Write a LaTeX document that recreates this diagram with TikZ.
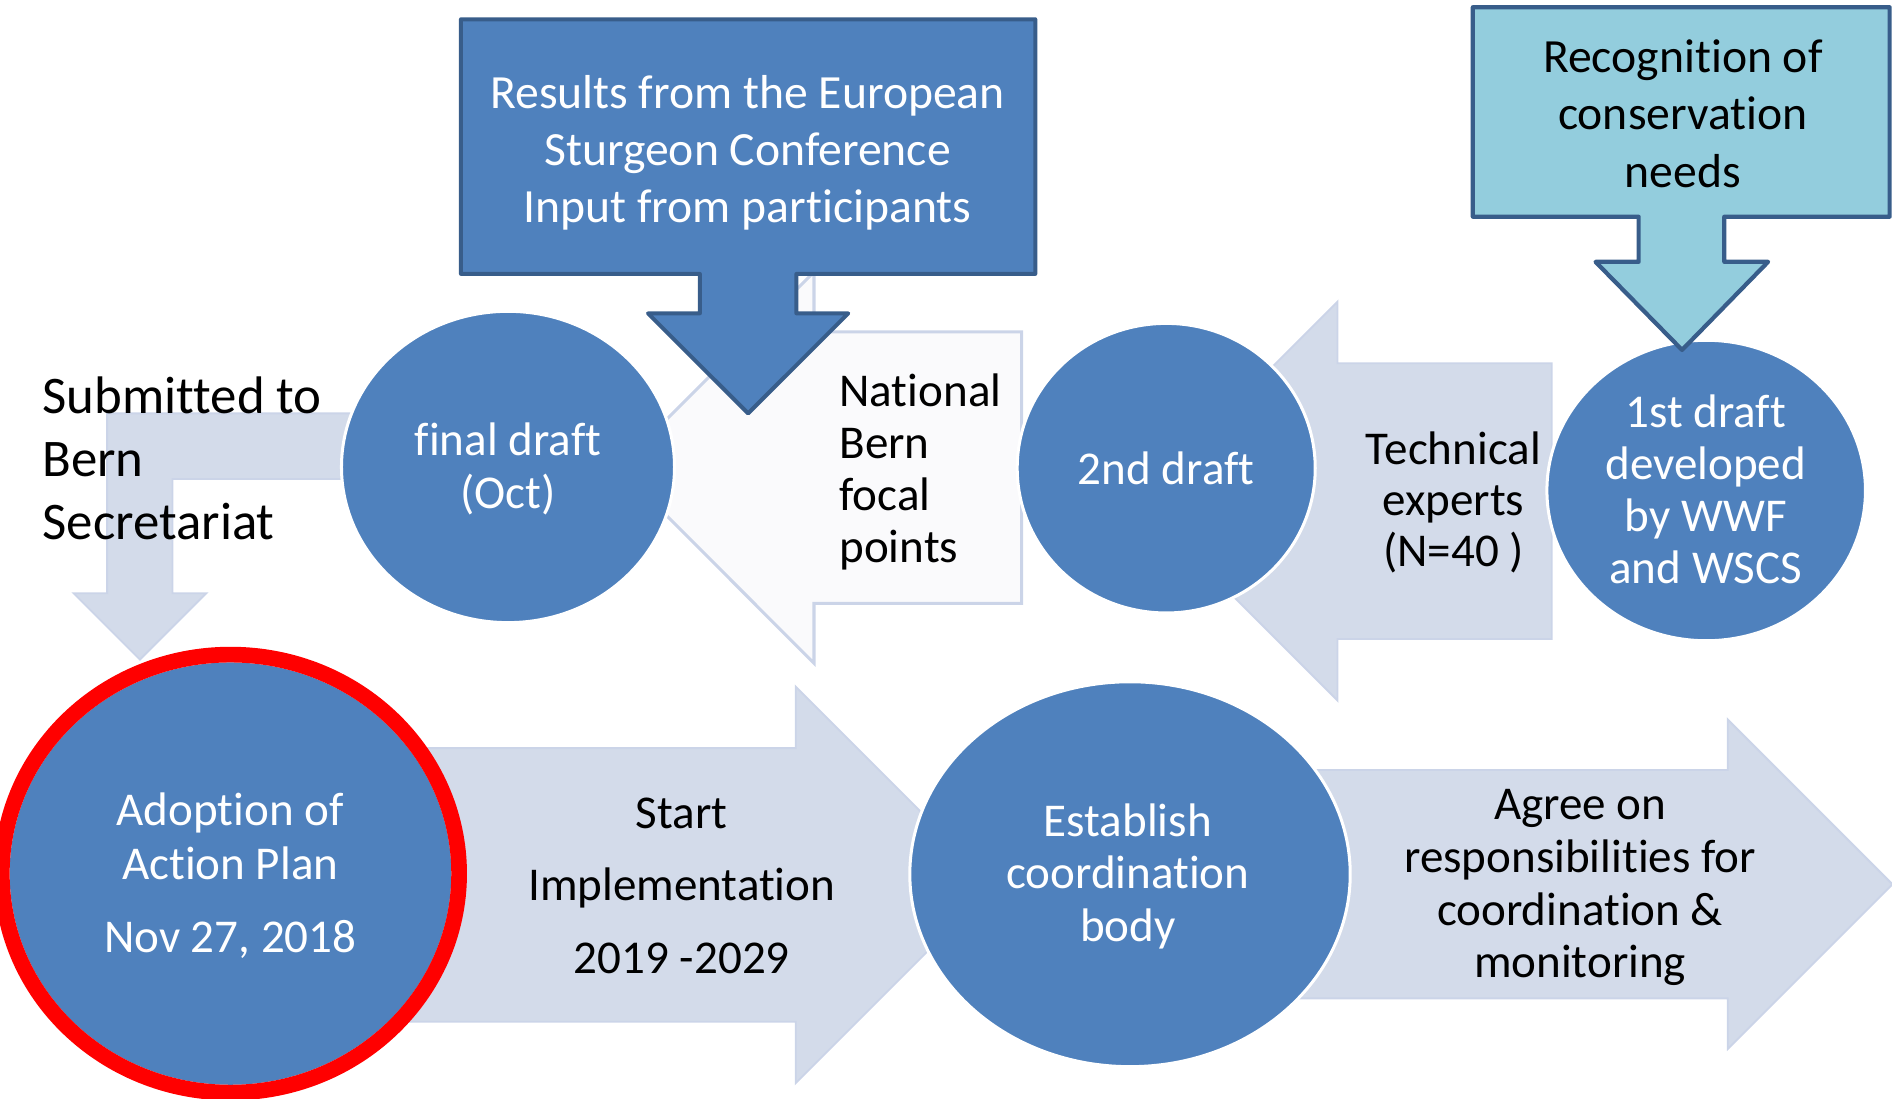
\documentclass[tikz,border=0pt]{standalone}
\usepackage{fontspec}
\setmainfont{Carlito}[Ligatures=NoCommon]
\usetikzlibrary{shapes.geometric}
\definecolor{dblue}{RGB}{79,129,189}
\definecolor{dborder}{RGB}{56,93,138}
\definecolor{aqua}{RGB}{147,205,221}
\definecolor{pale}{RGB}{211,219,234}
\definecolor{paleline}{RGB}{203,212,232}
\definecolor{ghost}{RGB}{250,250,252}
\begin{document}
\begin{tikzpicture}[x=1pt,y=-1pt,
		disc/.style={ellipse,fill=dblue,draw=white,line width=2.5pt,inner sep=0pt},
		flow/.style={fill=pale,draw=paleline,line width=1.5pt},
		callout/.style={fill=dblue,draw=dborder,line width=3.3pt,line join=round},
		wtext/.style={text=white,align=center,inner sep=0pt,yshift=-2.5pt,font=\fontsize{39}{43.5}\selectfont},
		btext/.style={text=black,align=center,inner sep=0pt,yshift=-2.5pt,font=\fontsize{39}{43.5}\selectfont}]
	\useasboundingbox (0,0) rectangle (1568,910);
	\draw[flow] (330,342.6) -- (88.8,342.6) -- (88.8,491.6) -- (61,491.6) -- (116,546.6) -- (171,491.6) -- (143,491.6) -- (143,397) -- (330,397) -- cycle;
	\draw[fill=ghost,draw=paleline,line width=2.5pt] (846.7,275) -- (846.7,500) -- (674.6,500) -- (674.6,549.6) -- (512.6,387.5) -- (674.6,225.4) -- (674.6,275) -- cycle;
	\draw[flow] (1286,301) -- (1286,529.6) -- (1108.5,529.6) -- (1108.5,580.6) -- (943.2,415.3) -- (1108.5,250) -- (1108.5,301) -- cycle;
	\draw[flow] (200,620) -- (659.5,620) -- (659.5,569) -- (823.8,733.3) -- (659.5,897.6) -- (659.5,846.7) -- (200,846.7) -- cycle;
	\draw[flow] (950,638.2) -- (1431.8,638.2) -- (1431.8,596.2) -- (1568.4,732.8) -- (1431.8,869.4) -- (1431.8,827.4) -- (950,827.4) -- cycle;
	\draw[callout] (382,16) -- (858,16) -- (858,227) -- (660,227) -- (660,259.7) -- (703,259.7) -- (620,342.6) -- (537,259.7) -- (580,259.7) -- (580,227) -- (382,227) -- cycle;
	\foreach \n/\x/\y/\w/\h in {final/421/387/276/258,second/966.5/388/247/240,first/1414/406.5/264/249,establish/936.5/724.5/365/319}
		\node[disc,minimum width=\w pt,minimum height=\h pt] (\n) at (\x,\y) {};
	\node[disc,draw=none,minimum width=366pt,minimum height=350pt] (adoption) at (191,724) {};
	\node[ellipse,draw=red,line width=13pt,inner sep=0pt,minimum width=379pt,minimum height=363pt] (adoptring) at (191,724) {};
	\draw[callout,fill=aqua,line width=3.5pt] (1220.6,6) -- (1566,6) -- (1566,179.6) -- (1429,179.6) -- (1429,217) -- (1465.3,217) -- (1394,290) -- (1322.3,217) -- (1358,217) -- (1358,179.6) -- (1220.6,179.6) -- cycle;
	\node[wtext,anchor=base,font=\fontsize{39.5}{47.5}\selectfont] (results) at (619.5,182.3) {Results from the European\\Sturgeon Conference\\Input from participants};
	\node[btext,anchor=base,font=\fontsize{39.5}{47.3}\selectfont] (recognition) at (1394.7,152.5) {Recognition of\\conservation\\needs};
	\node[btext,anchor=base west,align=left,font=\fontsize{43.8}{52.5}\selectfont] (submitted) at (35,445) {Submitted to\\Bern\\Secretariat};
	\node[wtext,anchor=base] (finaltext) at (421,418.6) {final draft\\(Oct)};
	\node[btext,anchor=base west,align=left,font=\fontsize{39}{43.3}\selectfont] (national) at (695.5,464) {National\\Bern\\focal\\points};
	\node[wtext,anchor=base] (secondtext) at (966.5,399) {2nd draft};
	\node[btext,anchor=base,font=\fontsize{39}{42.2}\selectfont] (technical) at (1204.5,466.9) {Technical\\experts\\(N=40 )};
	\node[wtext,anchor=base,font=\fontsize{39}{43.1}\selectfont] (firsttext) at (1413.6,480.7) {1st draft\\developed\\by WWF\\and WSCS};
	\node[wtext,anchor=base,font=\fontsize{39}{44.5}\selectfont] (adopttext) at (190.8,787) {Adoption of\\Action Plan\\[16pt]Nov 27, 2018};
	\node[btext,anchor=base,font=\fontsize{39}{60}\selectfont] (starttext) at (565,804) {Start\\Implementation\\2019 -2029};
	\node[wtext,anchor=base,font=\fontsize{39}{43.6}\selectfont] (esttext) at (934.7,777.7) {Establish\\coordination\\body};
	\node[btext,anchor=base,font=\fontsize{39}{43.8}\selectfont] (agreetext) at (1309.5,808) {Agree on\\responsibilities for\\coordination \&\\monitoring};
\end{tikzpicture}
\end{document}
